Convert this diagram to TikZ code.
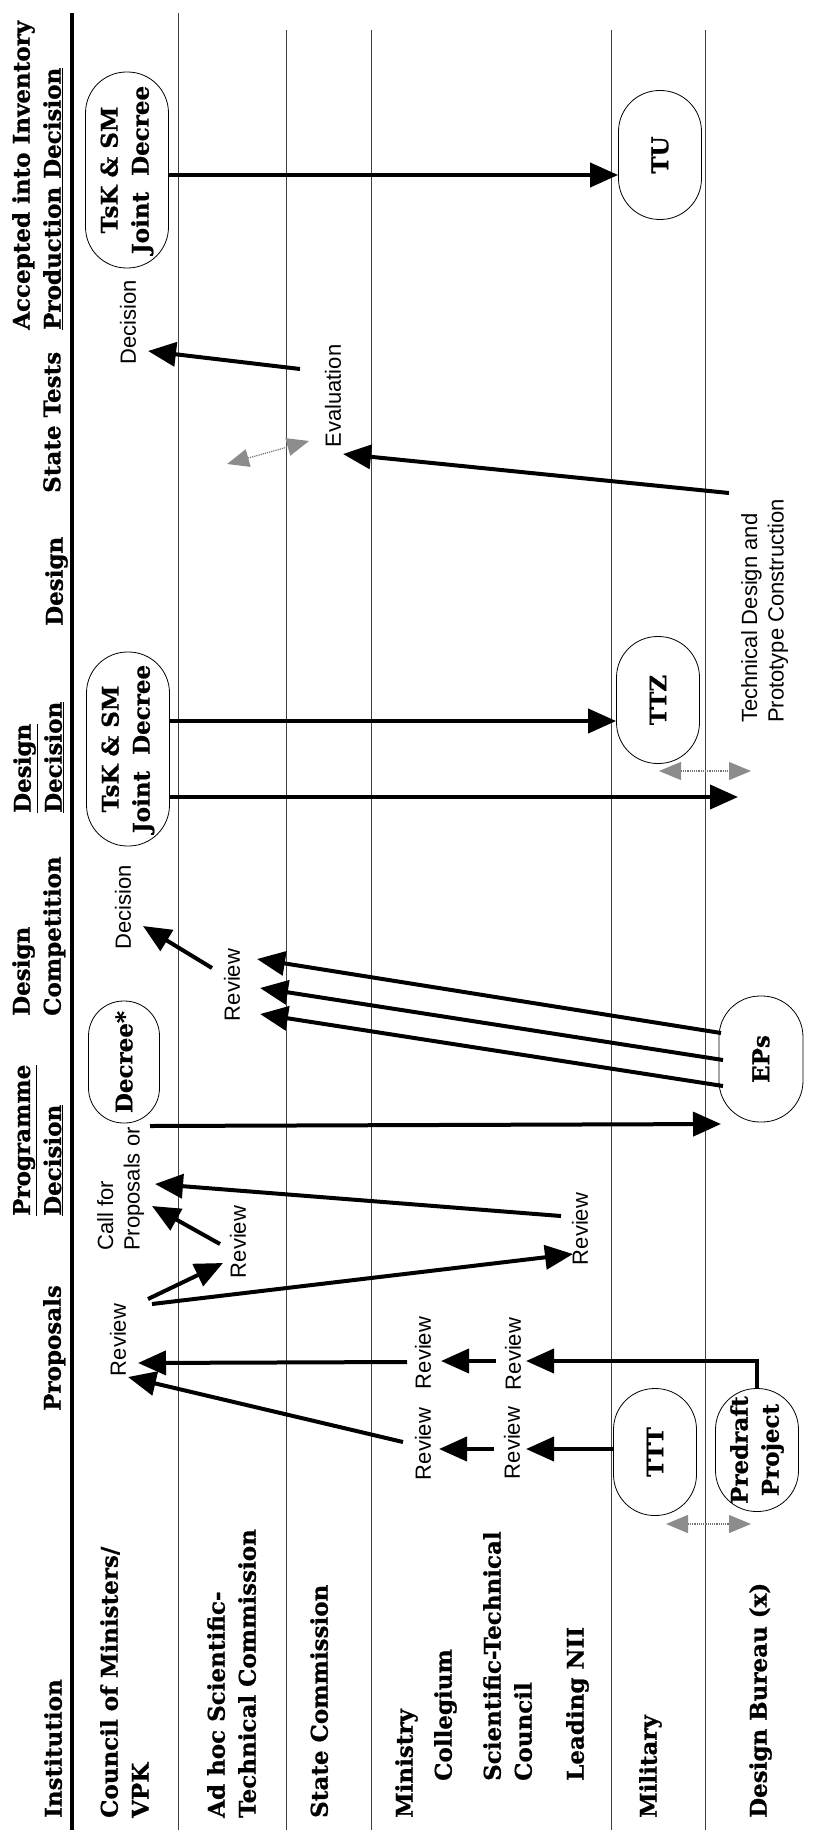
\documentclass[tikz,border=0pt]{standalone}
\usepackage{fontspec}
\usetikzlibrary{arrows.meta}
\newfontfamily\hdrfam{DejaVu Serif}[BoldFeatures={FakeBold=0.8}]
\newfontfamily\labfam{Liberation Sans}
\newcommand\hdrfont{\hdrfam\bfseries\fontsize{23}{31}\selectfont}
\newcommand\labfont{\labfam\fontsize{22}{26.5}\selectfont}
\begin{document}
\begin{tikzpicture}[x=1pt,y=-1pt,
  hdr/.style={rotate=90, inner sep=0pt, font=\hdrfont, align=left, anchor=north west},
  lbl/.style={rotate=90, inner sep=0pt, font=\labfont, align=left},
  oval/.style={rotate=90, draw, line width=0.8pt, font=\hdrfont, align=center, inner sep=0pt},
  flow/.style={line width=4pt, -{Triangle[length=28pt,width=24pt]}},
  swap/.style={draw=black!55, line width=1.2pt, densely dotted,
    {Triangle[length=22pt,width=18pt,fill=black!45,color=black!45]}-{Triangle[length=22pt,width=18pt,fill=black!45,color=black!45]}},
  lane/.style={black!75, line width=0.8pt}]
\useasboundingbox (0,0) rectangle (812,1830);

% frame lines
\coordinate (t0) at (72,13);   \coordinate (b0) at (72,1830);
\coordinate (t1) at (178,13);  \coordinate (b1) at (178,1830);
\coordinate (t2) at (286,30);  \coordinate (b2) at (286,1830);
\coordinate (t3) at (371,30);  \coordinate (b3) at (371,1830);
\coordinate (t4) at (611,30);  \coordinate (b4) at (611,1830);
\coordinate (t5) at (705,30);  \coordinate (b5) at (705,1830);
\draw[line width=4.5pt] (t0) -- (b0);
\draw[lane] (t1) -- (b1);
\draw[lane] (t2) -- (b2);
\draw[lane] (t3) -- (b3);
\draw[lane] (t4) -- (b4);
\draw[lane] (t5) -- (b5);

% phase headers
\node[hdr] (hAcc) at (12,330) {Accepted into Inventory\\\underline{Production Decision}};
\node[hdr] (hST) at (43,493) {State Tests};
\node[hdr] (hDes) at (45,626) {Design};
\node[hdr] (hDD) at (13,813) {\underline{Design}\\\underline{Decision}};
\node[hdr] (hDC) at (12,1016) {Design\\Competition};
\node[hdr] (hPD) at (13,1216) {\underline{Programme}\\\underline{Decision}};
\node[hdr] (hProp) at (43,1411) {Proposals};
\node[hdr] (hInst) at (44,1818) {Institution};

% institutions
\node[hdr] (iCM) at (100,1818) {Council of Ministers/\\VPK};
\node[hdr] (iAH) at (207,1818) {Ad hoc Scientific-\\Technical Commission};
\node[hdr] (iSC) at (310,1818) {State Commission};
\node[hdr] (iMin) at (395,1818) {Ministry};
\node[hdr] (iCol) at (434,1781) {Collegium};
\node[hdr] (iSTC) at (483,1781) {Scientific-Technical\\Council};
\node[hdr] (iNII) at (566,1781) {Leading NII};
\node[hdr] (iMil) at (639,1818) {Military};
\node[hdr] (iDB) at (749,1818) {Design Bureau (x)};

% ovals
\node[oval, minimum width=196pt, minimum height=83pt, rounded corners=41pt] (prodDecree) at (127,170) {TsK \& SM\\Joint\ \ Decree};
\node[oval, minimum width=129pt, minimum height=83pt, rounded corners=41pt] (TU) at (660,155) {TU};
\node[oval, minimum width=194pt, minimum height=83pt, rounded corners=41pt] (desDecree) at (128,749) {TsK \& SM\\Joint\ \ Decree};
\node[oval, minimum width=127pt, minimum height=83pt, rounded corners=41pt] (TTZ) at (658,700) {TTZ};
\node[oval, minimum width=122pt, minimum height=71pt, rounded corners=35pt] (decree) at (124,1062) {Decree*};
\node[oval, minimum width=126pt, minimum height=84pt, rounded corners=41pt] (EPs) at (761,1059) {EPs};
\node[oval, minimum width=127pt, minimum height=83pt, rounded corners=41pt] (TTT) at (655,1452) {TTT};
\node[oval, minimum width=123pt, minimum height=83pt, rounded corners=41pt] (predraft) at (757,1450) {Predraft\\Project};

% small labels
\node[lbl] (dec1) at (128,322) {Decision};
\node[lbl] (eval) at (333,396) {Evaluation};
\node[lbl, anchor=north west] (tech) at (741,723) {Technical Design and\\Prototype Construction};
\node[lbl] (dec2) at (123,907) {Decision};
\node[lbl] (revDC) at (232,985) {Review};
\node[lbl, anchor=north west] (call) at (97,1251) {Call for\\Proposals or};
\node[lbl] (revAH) at (238,1242) {Review};
\node[lbl] (revNII) at (580,1229) {Review};
\node[lbl] (revCM) at (118,1340) {Review};
\node[lbl] (revCol1) at (423,1353) {Review};
\node[lbl] (revSci1) at (513,1354) {Review};
\node[lbl] (revCol2) at (423,1444) {Review};
\node[lbl] (revSci2) at (512,1443) {Review};

% connector end points
\coordinate (y175) at (0,175);
\coordinate (y721) at (0,721);
\coordinate (y797) at (0,797);
\coordinate (a2s) at (300,369);  \coordinate (a2e) at (148,351);
\coordinate (a3s) at (729,493);  \coordinate (a3e) at (343,454);
\coordinate (a5e) at (738,797);
\coordinate (a6s) at (212,968);  \coordinate (a6e) at (143,926);
\coordinate (a7s) at (721,1033); \coordinate (a7e) at (257,959);
\coordinate (a8s) at (723,1060); \coordinate (a8e) at (260,988);
\coordinate (a9s) at (723,1086); \coordinate (a9e) at (260,1014);
\coordinate (a10s) at (150,1126); \coordinate (a10e) at (721,1124);
\coordinate (a11s) at (561,1216); \coordinate (a11e) at (155,1184);
\coordinate (a12s) at (220,1244); \coordinate (a12e) at (152,1206);
\coordinate (a13s) at (148,1299); \coordinate (a13e) at (223,1263);
\coordinate (a14s) at (152,1304); \coordinate (a14e) at (573,1254);
\coordinate (a15s) at (407,1362); \coordinate (a15e) at (138,1363);
\coordinate (a16s) at (496,1361); \coordinate (a16e) at (441,1361);
\coordinate (a17e) at (526,1361);
\coordinate (a18e) at (526,1449);
\coordinate (a19s) at (494,1449); \coordinate (a19e) at (439,1449);
\coordinate (a20s) at (403,1442); \coordinate (a20e) at (128,1377);
\coordinate (g1s) at (227,464); \coordinate (g1e) at (309,441);
\coordinate (g2s) at (659,771); \coordinate (g2e) at (751,771);
\coordinate (g3s) at (666,1524); \coordinate (g3e) at (751,1524);

% connectors
\draw[flow] (prodDecree.south |- y175) -- (TU.north |- y175);
\draw[flow] (a2s) -- (a2e);
\draw[flow] (a3s) -- (a3e);
\draw[flow] (desDecree.south |- y721) -- (TTZ.north |- y721);
\draw[flow] (desDecree.south |- y797) -- (a5e);
\draw[flow] (a6s) -- (a6e);
\draw[flow] (a7s) -- (a7e);
\draw[flow] (a8s) -- (a8e);
\draw[flow] (a9s) -- (a9e);
\draw[flow] (a10s) -- (a10e);
\draw[flow] (a11s) -- (a11e);
\draw[flow] (a12s) -- (a12e);
\draw[flow] (a13s) -- (a13e);
\draw[flow] (a14s) -- (a14e);
\draw[flow] (a15s) -- (a15e);
\draw[flow] (a16s) -- (a16e);
\draw[flow] (predraft.east) |- (a17e);
\draw[flow] (TTT.north |- a18e) -- (a18e);
\draw[flow] (a19s) -- (a19e);
\draw[flow] (a20s) -- (a20e);
\draw[swap] (g1s) -- (g1e);
\draw[swap] (g2s) -- (g2e);
\draw[swap] (g3s) -- (g3e);
\end{tikzpicture}
\end{document}
